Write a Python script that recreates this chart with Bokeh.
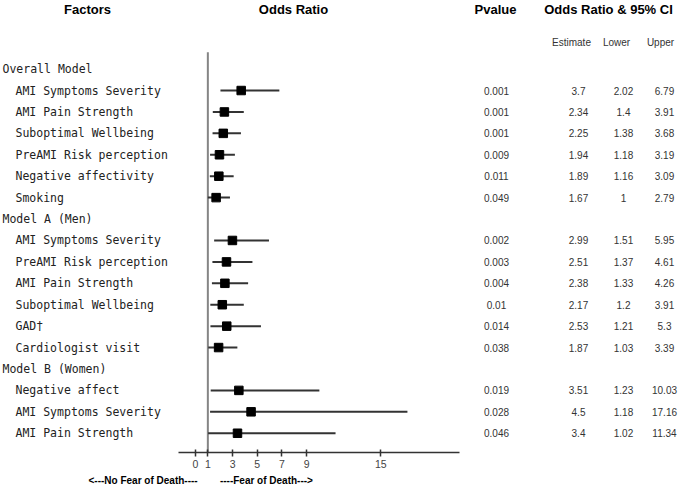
from bokeh.plotting import figure
from bokeh.models import ColumnDataSource, LinearAxis, FixedTicker, Range1d, Title
from bokeh.core.properties import value
from bokeh.embed import file_html
from bokeh.resources import INLINE

# ---------------- data ----------------
factors = ["Overall Model", "AMI Symptoms Severity", "AMI Pain Strength", "Suboptimal Wellbeing",
           "PreAMI Risk perception", "Negative affectivity", "Smoking", "Model A (Men)",
           "AMI Symptoms Severity", "PreAMI Risk perception", "AMI Pain Strength",
           "Suboptimal Wellbeing", "GAD\u2020", "Cardiologist visit", "Model B (Women)",
           "Negative affect", "AMI Symptoms Severity", "AMI Pain Strength"]
is_group = [True, False, False, False, False, False, False, True,
            False, False, False, False, False, False, True, False, False, False]
pvalue = ["", "0.001", "0.001", "0.001", "0.009", "0.011", "0.049", "",
          "0.002", "0.003", "0.004", "0.01", "0.014", "0.038", "",
          "0.019", "0.028", "0.046"]
estimate = [None, 3.7, 2.34, 2.25, 1.94, 1.89, 1.67, None,
            2.99, 2.51, 2.38, 2.17, 2.53, 1.87, None, 3.51, 4.5, 3.4]
lower = [None, 2.02, 1.4, 1.38, 1.18, 1.16, 1, None,
         1.51, 1.37, 1.33, 1.2, 1.21, 1.03, None, 1.23, 1.18, 1.02]
upper = [None, 6.79, 3.91, 3.68, 3.19, 3.09, 2.79, None,
         5.95, 4.61, 4.26, 3.91, 5.3, 3.39, None, 10.03, 17.16, 11.34]
tick_values = [0, 1, 3, 5, 7, 9, 15]
reference_or = 1
direction_left = "<---No Fear of Death----"
direction_right = "----Fear of Death--->"

# ---------------- layout helpers (pixel -> data) ----------------
X0, XS = 195.0, 12.35      # pixel of OR=0 and px per unit
Y0, YS = 68.6, 21.42       # pixel of row 0 and px per row
W, H = 685, 487
FRAME_BOTTOM = 452


def dx(px):
    return (px - X0) / XS


def dy(py):
    return (py - Y0) / YS


p = figure(width=W, height=H, output_backend="svg", toolbar_location=None,
           x_axis_type=None, y_axis_type=None,
           x_range=Range1d(dx(0), dx(W)), y_range=Range1d(dy(FRAME_BOTTOM), dy(0)),
           min_border_left=0, min_border_right=0, min_border_top=0,
           min_border_bottom=H - FRAME_BOTTOM)
p.outline_line_color = None
p.xgrid.visible = False
p.ygrid.visible = False
p.background_fill_color = "white"
p.border_fill_color = "white"

rows = list(range(len(factors)))

# factor labels
grp = ColumnDataSource(dict(y=[r for r, g in zip(rows, is_group) if g],
                            t=[f for f, g in zip(factors, is_group) if g]))
itm = ColumnDataSource(dict(y=[r for r, g in zip(rows, is_group) if not g],
                            t=[f for f, g in zip(factors, is_group) if not g]))
mono = value("DejaVu Sans Mono")
p.text(x=dx(2), y="y", text="t", source=grp, text_font=mono, text_font_size="11.5px",
       text_color="#222222", text_baseline="middle", text_align="left")
p.text(x=dx(15), y="y", text="t", source=itm, text_font=mono, text_font_size="11.5px",
       text_color="#222222", text_baseline="middle", text_align="left")

# forest plot
d_rows = [r for r, g in zip(rows, is_group) if not g]
fsrc = ColumnDataSource(dict(
    y=d_rows,
    est=[estimate[r] for r in d_rows],
    lo=[lower[r] for r in d_rows],
    hi=[upper[r] for r in d_rows],
    pv=[pvalue[r] for r in d_rows],
    est_s=[f"{estimate[r]:g}" for r in d_rows],
    lo_s=[f"{lower[r]:g}" for r in d_rows],
    hi_s=[f"{upper[r]:g}" for r in d_rows],
))
p.segment(x0=reference_or, x1=reference_or, y0=dy(51.7), y1=dy(FRAME_BOTTOM),
          line_color="#858585", line_width=2)
p.segment(x0="lo", x1="hi", y0="y", y1="y", source=fsrc, line_color="#333333", line_width=2)
p.scatter(x="est", y="y", source=fsrc, marker="square", size=8.5,
          fill_color="black", line_color="black")

# table columns
num_font = value("Liberation Sans")
for col, cx in [("pv", 496), ("est_s", 578), ("lo_s", 623), ("hi_s", 664)]:
    p.text(x=dx(cx), y="y", text=col, source=fsrc, text_font=num_font, text_font_size="10px",
           text_color="#333333", text_baseline="middle", text_align="center")

# headers
hsrc = ColumnDataSource(dict(x=[dx(87), dx(293), dx(495), dx(608)], y=[dy(9)] * 4,
                             t=["Factors", "Odds Ratio", "Pvalue", "Odds Ratio & 95% CI"]))
p.text(x="x", y="y", text="t", source=hsrc, text_font=num_font, text_font_size="13px",
       text_font_style="bold", text_color="black", text_baseline="middle", text_align="center")
ssrc = ColumnDataSource(dict(x=[dx(571), dx(616), dx(660)], y=[dy(42)] * 3,
                             t=["Estimate", "Lower", "Upper"]))
p.text(x="x", y="y", text="t", source=ssrc, text_font=num_font, text_font_size="10px",
       text_color="#333333", text_baseline="middle", text_align="center")

# x axis
ax = LinearAxis(ticker=FixedTicker(ticks=tick_values), bounds=(dx(178), dx(459)))
ax.axis_line_color = "#333333"
ax.axis_line_width = 1.5
ax.major_tick_line_color = "#333333"
ax.major_tick_line_width = 1.5
ax.major_tick_in = 3
ax.major_tick_out = 4
ax.minor_tick_line_color = None
ax.major_label_standoff = 3
ax.major_label_text_font = "Liberation Sans"
ax.major_label_text_font_size = "10.5px"
ax.major_label_text_color = "#444444"
p.add_layout(ax, "below")

direction_text = direction_left + "\u00a0" * 8 + direction_right
p.add_layout(Title(text=direction_text, align="left", offset=88, standoff=4,
                   text_font="Liberation Sans", text_font_size="10px",
                   text_font_style="bold", text_color="black"), "below")

open("out.html", "w").write(file_html(p, INLINE))
